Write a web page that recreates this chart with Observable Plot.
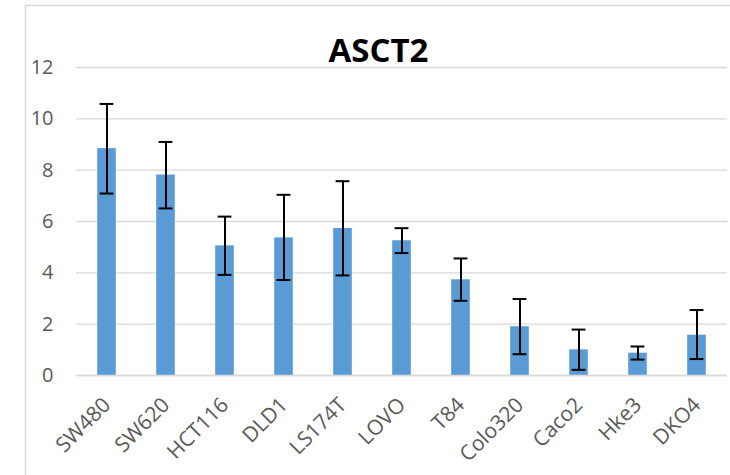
<!DOCTYPE html>
<html>
<head>
<meta charset="utf-8">
<script src="https://cdn.jsdelivr.net/npm/d3@7"></script>
<script src="https://cdn.jsdelivr.net/npm/@observablehq/plot@0.6"></script>
<style>
  html, body { margin: 0; padding: 0; background: #fff; overflow: hidden; }
  #chart { width: 730px; height: 475px; overflow: hidden; }
</style>
</head>
<body>
<div id="chart"></div>
<script>
const title = "ASCT2";
const categories = ["SW480", "SW620", "HCT116", "DLD1", "LS174T", "LOVO", "T84", "Colo320", "Caco2", "Hke3", "DKO4"];
const values    = [8.84, 7.81, 5.05, 5.36, 5.73, 5.25, 3.73, 1.90, 1.00, 0.87, 1.57];
const errLow    = [7.09, 6.51, 3.92, 3.72, 3.90, 4.77, 2.91, 0.83, 0.22, 0.62, 0.64];
const errHigh   = [10.58, 9.10, 6.19, 7.04, 7.57, 5.74, 4.56, 2.98, 1.79, 1.13, 2.55];
const yTicks    = [0, 2, 4, 6, 8, 10, 12];

const data = categories.map((c, i) => ({cat: c, v: values[i], lo: errLow[i], hi: errHigh[i]}));

const font = "'Open Sans', sans-serif";
const chart = Plot.plot({
  width: 730,
  height: 475,
  marginLeft: 76,
  marginRight: 3,
  marginTop: 67,
  marginBottom: 100,
  style: {fontFamily: font, fontSize: "20px", color: "#595959", background: "transparent"},
  x: {domain: categories, padding: 0, label: null},
  y: {domain: [0, 12], label: null},
  marks: [
    Plot.gridY(yTicks, {stroke: "#d9d9d9", strokeOpacity: 1, strokeWidth: 1.4}),
    Plot.barY(data, {x: "cat", y: "v", fill: "#5b9bd5", insetLeft: 20.2, insetRight: 20.2}),
    Plot.ruleY([0], {stroke: "#d9d9d9", strokeWidth: 1.6}),
    Plot.ruleX(data, {x: "cat", y1: "lo", y2: "hi", stroke: "#000", strokeWidth: 2}),
    Plot.tickY(data, {x: "cat", y: "lo", stroke: "#000", strokeWidth: 2, insetLeft: 22.6, insetRight: 22.6}),
    Plot.tickY(data, {x: "cat", y: "hi", stroke: "#000", strokeWidth: 2, insetLeft: 22.6, insetRight: 22.6}),
    Plot.axisY(yTicks, {tickSize: 0, tickPadding: 23, fontSize: 20, fill: "#595959", label: null}),
    Plot.axisX({tickSize: 0, tickRotate: -45, tickPadding: 26, fontSize: 21, fill: "#595959", label: null}),
    Plot.text([title], {frameAnchor: "top-left", dx: 302, dy: -6, lineAnchor: "bottom", textAnchor: "middle",
      fontSize: 33, fontWeight: "bold", fill: "#000"})
  ]
});

d3.select(chart).insert("rect", ":first-child")
  .attr("x", 25.5).attr("y", 5.5).attr("width", 900).attr("height", 900)
  .attr("fill", "none").attr("stroke", "#d9d9d9").attr("stroke-width", 1.5);

document.getElementById("chart").appendChild(chart);
</script>
</body>
</html>
